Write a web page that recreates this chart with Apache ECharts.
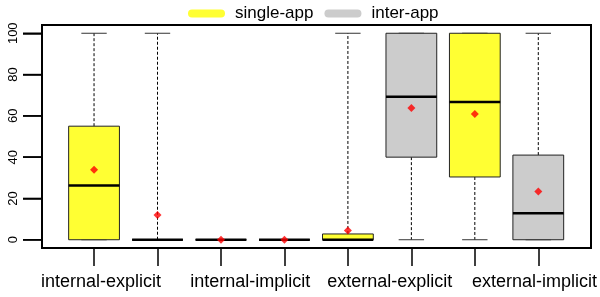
<!DOCTYPE html>
<html>
<head>
<meta charset="utf-8">
<script src="https://cdn.jsdelivr.net/npm/echarts@6/dist/echarts.min.js"></script>
<style>
  html, body { margin: 0; padding: 0; background: #fff; }
  #chart { width: 600px; height: 297px; }
</style>
</head>
<body>
<div id="chart"></div>
<script>
// categories: one pair of boxes per group
var groups = ['internal-explicit', 'internal-implicit', 'external-explicit', 'external-implicit'];
var boxPos = [1, 2, 3, 4, 5, 6, 7, 8];
var groupLabelPos = [1.11, 3.46, 5.66, 7.94];
var yTicks = [0, 20, 40, 60, 80, 100];
var xMin = 0.18, xMax = 8.82;

// [min, q1, median, q3, max]
var singleApp = [
    [0, 0, 26.3, 55, 100],
    [0, 0, 0, 0, 0],
    [0, 0, 0, 2.8, 100],
    [0, 30.4, 66.7, 100, 100]
];
var interApp = [
    [0, 0, 0, 0, 100],
    [0, 0, 0, 0, 0],
    [0, 40, 69.3, 100, 100],
    [0, 0, 12.8, 41, 100]
];
var singleMean = [33.9, 0, 4.5, 60.9];
var interMean = [12.0, 0, 63.8, 23.4];

var font = 'Liberation Sans';

function boxData(arr, offset) {
    return arr.map(function (v, i) {
        return [boxPos[i * 2 + offset]].concat(v);
    });
}
function meanData(arr, offset) {
    return arr.map(function (v, i) {
        return [boxPos[i * 2 + offset], v];
    });
}

//画箱线
function renderBox(params, api) {
    var x = api.value(0);
    var pMin = api.coord([x, api.value(1)]);
    var pQ1 = api.coord([x, api.value(2)]);
    var pMed = api.coord([x, api.value(3)]);
    var pQ3 = api.coord([x, api.value(4)]);
    var pMax = api.coord([x, api.value(5)]);
    var bw = api.size([1, 0])[0] * 0.8;
    var h = bw / 2, c = bw / 4;
    var cx = pMed[0];
    var dash = { stroke: '#000', lineWidth: 1, lineDash: [3, 2] };
    var solid = { stroke: '#333', lineWidth: 1 };
    return {
        type: 'group',
        children: [
            { type: 'line', shape: { x1: cx, y1: pQ3[1], x2: cx, y2: pMax[1] }, style: dash },
            { type: 'line', shape: { x1: cx, y1: pQ1[1], x2: cx, y2: pMin[1] }, style: dash },
            { type: 'line', shape: { x1: cx - c, y1: pMax[1], x2: cx + c, y2: pMax[1] }, style: solid },
            { type: 'line', shape: { x1: cx - c, y1: pMin[1], x2: cx + c, y2: pMin[1] }, style: solid },
            {
                type: 'rect',
                shape: { x: cx - h, y: pQ3[1], width: bw, height: pQ1[1] - pQ3[1] },
                style: { fill: api.visual('color'), stroke: '#222', lineWidth: 1 }
            },
            { type: 'line', shape: { x1: cx - h, y1: pMed[1], x2: cx + h, y2: pMed[1] }, style: { stroke: '#000', lineWidth: 2.5 } }
        ]
    };
}

// y 轴刻度线（axisTick 在这里不显示，用 custom 补上）
function renderYTick(params, api) {
    var p = api.coord([api.value(0), api.value(1)]);
    return {
        type: 'line',
        shape: { x1: p[0] - 19, y1: p[1], x2: p[0], y2: p[1] },
        style: { stroke: '#000', lineWidth: 1.5 }
    };
}

var myChart = echarts.init(document.getElementById('chart'));
myChart.setOption({
    animation: false,
    textStyle: { fontFamily: font },
    legend: {
        left: 183,
        top: 0,
        itemWidth: 37,
        itemHeight: 8,
        itemGap: 11,
        icon: 'path://M4,0L33,0A4,4,0,0,1,33,8L4,8A4,4,0,0,1,4,0Z',
        itemStyle: { borderWidth: 0 },
        textStyle: { fontSize: 17, color: '#000', fontFamily: font, padding: [0, 0, 0, 5] },
        data: ['single-app', 'inter-app']
    },
    // grid 0: frame + y axis, grid 1: same area, boxes + x axis
    grid: [
        { left: 42, width: 549, top: 25, height: 223, show: true, borderColor: '#000', borderWidth: 2, backgroundColor: 'transparent' },
        { left: 42, width: 549, top: 25, height: 223 }
    ],
    xAxis: [
        { gridIndex: 0, type: 'value', min: xMin, max: xMax, show: false },
        {
            gridIndex: 1,
            type: 'value',
            min: xMin,
            max: xMax,
            splitLine: { show: false },
            axisLine: { show: true, onZero: false, lineStyle: { color: '#000', width: 2 } },
            axisTick: { show: true, length: 18, customValues: boxPos, lineStyle: { color: '#000', width: 1.5 } },
            axisLabel: {
                show: true,
                customValues: groupLabelPos,
                margin: 25,
                color: '#000',
                fontSize: 18,
                fontFamily: font,
                formatter: function (v) {
                    var i = groupLabelPos.indexOf(v);
                    return i >= 0 ? groups[i] : '';
                }
            }
        }
    ],
    yAxis: [
        {
            gridIndex: 0,
            type: 'value',
            min: -4,
            max: 104,
            splitLine: { show: false },
            axisLine: { show: true, onZero: false, lineStyle: { color: '#000', width: 2 } },
            axisTick: { show: true, length: 19, customValues: yTicks, lineStyle: { color: '#000', width: 1.5 } },
            axisLabel: { show: true, customValues: yTicks, rotate: 90, margin: 22, fontSize: 13, color: '#000', fontFamily: font }
        },
        { gridIndex: 1, type: 'value', min: -4, max: 104, show: false }
    ],
    series: [
        {
            name: 'ytick',
            type: 'custom',
            xAxisIndex: 0,
            yAxisIndex: 0,
            silent: true,
            clip: false,
            renderItem: renderYTick,
            data: yTicks.map(function (v) { return [xMin, v]; }),
            z: 6
        },
        {
            name: 'single-app',
            type: 'custom',
            xAxisIndex: 1,
            yAxisIndex: 1,
            renderItem: renderBox,
            itemStyle: { color: '#ffff33' },
            encode: { x: 0, y: [1, 2, 3, 4, 5] },
            data: boxData(singleApp, 0),
            z: 2
        },
        {
            name: 'inter-app',
            type: 'custom',
            xAxisIndex: 1,
            yAxisIndex: 1,
            renderItem: renderBox,
            itemStyle: { color: '#cccccc' },
            encode: { x: 0, y: [1, 2, 3, 4, 5] },
            data: boxData(interApp, 1),
            z: 2
        },
        {
            name: 'mean',
            type: 'scatter',
            xAxisIndex: 1,
            yAxisIndex: 1,
            symbol: 'diamond',
            symbolSize: 8,
            itemStyle: { color: '#ff0000' },
            data: meanData(singleMean, 0).concat(meanData(interMean, 1)),
            z: 5
        }
    ]
});
</script>
</body>
</html>
